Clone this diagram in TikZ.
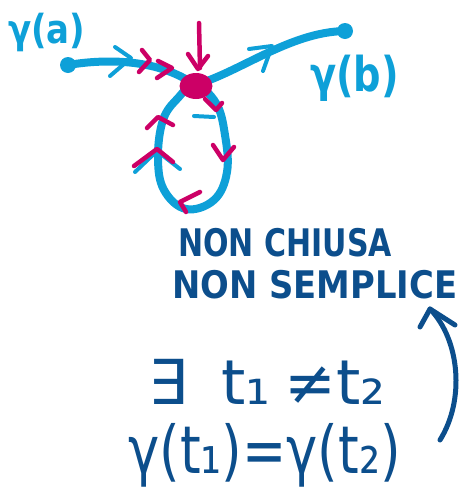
\documentclass[tikz,border=0pt]{standalone}
\usepackage{fontspec}
\setmainfont{DejaVu Sans}
\usetikzlibrary{arrows.meta,shapes.geometric}
\definecolor{cyanb}{RGB}{14,160,216}
\definecolor{mag}{RGB}{204,0,102}
\definecolor{darkb}{RGB}{12,78,140}
\tikzset{
  curve/.style={draw=cyanb, line width=8pt, line cap=round, line join=round},
  redchev/.style={draw=mag, line width=4.5pt, line cap=round, line join=round},
  bluechev/.style={draw=cyanb, line width=4pt, line cap=round, line join=round},
  enddot/.style={circle, fill=cyanb, inner sep=0pt, minimum size=16pt},
  hand/.style={inner sep=0pt, anchor=west},
  darkline/.style={draw=darkb, line width=5pt, line cap=round, line join=round},
}
\begin{document}
\begin{tikzpicture}[x=1pt, y=-1pt]
\useasboundingbox (0,0) rectangle (474,499);
% end points
\node[enddot] (A) at (68,65) {};
\node[enddot] (B) at (345,31) {};
% loop
\draw[curve] plot[smooth cycle, tension=0.65] coordinates {(195,85) (216,103) (225,135) (227,172) (214,200) (186,209) (164,190) (158,158) (163,120) (178,98)};
% main path
\draw[curve] (A.center) .. controls (110,58) and (160,60) .. (195,85);
\draw[curve] (195,85) .. controls (240,72) and (290,32) .. (B.center);
% red point
\node[ellipse, fill=mag, minimum width=33pt, minimum height=26pt, inner sep=0pt] (P) at (196,86) {};
% blue chevrons
\draw[bluechev] (115,47) -- (131,58) -- (110,76);
\draw[bluechev] (249,49) -- (272,46) -- (263,71);
\draw[bluechev] (194,116) -- (214,117);
\draw[bluechev] (135,172) -- (157,151) -- (180,169);
% red chevrons
\draw[redchev] (142,50) -- (150,60) -- (139,72);
\draw[redchev] (158,61) -- (172,68) -- (157,78);
\draw[redchev] (199,23) -- (200,68);
\draw[redchev] (188,54) -- (198,69) -- (208,56);
\draw[redchev] (205,99) -- (216,110) -- (222,103);
\draw[redchev] (213,145) -- (223,160) -- (234,147);
\draw[redchev] (200,192) -- (180,202) -- (186,212);
\draw[redchev] (134,166) -- (157,149) -- (173,162);
\draw[redchev] (147,128) -- (158,117) -- (173,125);
% labels
\node[hand, text=cyanb, font=\bfseries\fontsize{40}{40}\selectfont, xscale=0.85] (ga) at (8,32) {γ(a)};
\node[hand, text=cyanb, font=\bfseries\fontsize{48}{48}\selectfont, xscale=0.8] (gb) at (310,78) {γ(b)};
% text
\node[hand, text=darkb, font=\bfseries\fontsize{38}{38}\selectfont, xscale=0.79] (nc) at (178,243) {NON CHIUSA};
\node[hand, text=darkb, font=\bfseries\fontsize{38}{38}\selectfont, xscale=0.89] (ns) at (172,285) {NON SEMPLICE};
\node[hand, text=darkb, font=\fontsize{62}{62}\selectfont] (f1) at (148,382) {∃\hspace{34pt}t₁\hspace{14pt}≠t₂};
\node[hand, text=darkb, font=\fontsize{66}{66}\selectfont, xscale=0.8] (f2) at (128,455) {γ(t₁)=γ(t₂)};
% arrow
\coordinate (tail) at (440,440);
\coordinate (head) at (430,309);
\draw[darkline] (tail) .. controls (465,400) and (460,340) .. (head);
\draw[darkline] (420,327) -- (head) -- (455,325);
\end{tikzpicture}
\end{document}
